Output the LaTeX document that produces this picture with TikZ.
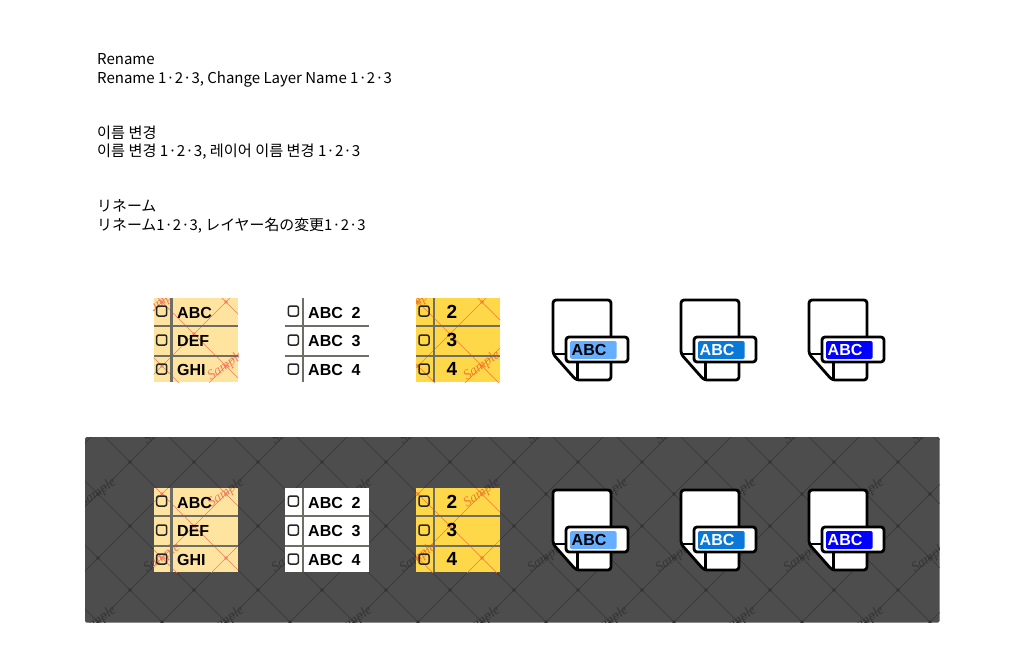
\documentclass[tikz,border=0pt]{standalone}
\usepackage{fontspec}
\setmainfont{Noto Sans CJK KR}
\newfontfamily\jpfont{Noto Sans CJK JP}
\newfontfamily\iconfont{Liberation Sans}
\newfontfamily\markfont{Liberation Serif}

% lattice with its dots, one colour per call
\newcommand{\lattice}[2]{
    \foreach \n in {-16,...,4} {
        \draw[#1, line width=0.5pt] (60, {392+64*\n}) -- (960, {1292+64*\n});
    }
    \foreach \n in {-4,...,16} {
        \draw[#1, line width=0.5pt] (60, {532+64*\n}) -- (960, {-368+64*\n});
    }
    \foreach \i in {-1,...,13} {
        \foreach \j in {-3,...,3} {
            \fill[#2] ({130+64*\i}, {462+64*\j}) circle (1.8);
            \fill[#2] ({162+64*\i}, {494+64*\j}) circle (1.8);
        }
    }
}

\tikzset{
    caption/.style={anchor=base west, inner sep=0pt, font=\fontsize{15}{15}\selectfont},
    kocaption/.style={caption, font=\fontsize{15.2}{15.2}\selectfont},
    jpcaption/.style={caption, font=\jpfont\fontsize{14.9}{14.9}\selectfont},
    rowlabel/.style={anchor=west, inner sep=0pt, font=\iconfont\bfseries\fontsize{16}{16}\selectfont},
    numlabel/.style={inner sep=0pt, font=\iconfont\bfseries\fontsize{19}{19}\selectfont},
    stamp/.style={rotate=35, inner sep=0pt, font=\markfont\itshape\fontsize{14}{14}\selectfont},
    gridline/.style={tablegray, line width=2.2pt},
    checkbox/.style={draw=black!85, line width=1.5pt, rounded corners=2pt},
    docline/.style={black, line width=2.8pt, rounded corners=3pt}
}

\begin{document}
\begin{tikzpicture}[x=1pt, y=-1pt]
    % Define colors
    \definecolor{panelcolor}{RGB}{77, 77, 77}
    \definecolor{latticecolor}{RGB}{54, 54, 54}
    \definecolor{palecolor}{RGB}{255, 228, 160}
    \definecolor{paleline}{RGB}{240, 128, 96}
    \definecolor{ambercolor}{RGB}{255, 216, 74}
    \definecolor{amberline}{RGB}{240, 128, 40}
    \definecolor{tablegray}{RGB}{110, 110, 100}
    \definecolor{lightblue}{RGB}{102, 174, 255}
    \definecolor{midblue}{RGB}{10, 120, 215}
    \definecolor{fullblue}{RGB}{0, 0, 255}

    % Page size
    \useasboundingbox (0, 0) rectangle (1024, 654);

    % Captions
    \node[caption] (enhead) at (97, 64.5) {Rename};
    \node[caption] (enline) at (97, 83.2) {Rename 1·2·3, Change Layer Name 1·2·3};
    \node[kocaption] (kohead) at (97, 138) {이름 변경};
    \node[kocaption] (koline) at (97, 156.7) {이름 변경 1·2·3, 레이어 이름 변경 1·2·3};
    \node[jpcaption] (jphead) at (97, 211) {リネーム};
    \node[jpcaption] (jpline) at (97, 230) {リネーム1·2·3, レイヤー名の変更1·2·3};

    % Dark panel
    \fill[panelcolor, rounded corners=1.5pt] (85, 437) rectangle (939.5, 622.5);
    \begin{scope}
        \clip (85, 437) rectangle (939.5, 622.5);
        \lattice{latticecolor}{black!80}
        \foreach \i in {0,...,6} {
            \node[stamp, latticecolor, name=panelup\i] at ({98+128*\i}, 493) {Sample};
            \node[stamp, latticecolor, name=paneldown\i] at ({98+128*\i}, 621) {Sample};
            \node[stamp, latticecolor, name=paneltop\i] at ({162+128*\i}, 430) {Sample};
            \node[stamp, latticecolor, name=panelmid\i] at ({162+128*\i}, 558) {Sample};
        }
    \end{scope}

    % Both rows of icons
    \foreach \dy/\ax/\ay/\bx/\by in {0/162/302/226/366, 190/226/303/162/368} {
        % Table fills
        \fill[palecolor] (153.5, 298+\dy) rectangle (238, 382+\dy);
        \fill[white] (284.5, 298+\dy) rectangle (368.5, 382+\dy);
        \fill[ambercolor] (416, 298+\dy) rectangle (500, 382+\dy);

        % Stamps that show on the fills
        \begin{scope}
            \clip (153.5, 298+\dy) rectangle (238, 382+\dy);
            \lattice{paleline}{paleline}
            \node[stamp, paleline, name=palea\dy] at (\ax, \ay+\dy) {Sample};
            \node[stamp, paleline, name=paleb\dy] at (\bx, \by+\dy) {Sample};
        \end{scope}
        \begin{scope}
            \clip (416, 298+\dy) rectangle (500, 382+\dy);
            \lattice{amberline}{amberline}
            \node[stamp, amberline, name=ambera\dy] at (\ax+256, \ay+\dy) {Sample};
            \node[stamp, amberline, name=amberb\dy] at (\bx+256, \by+\dy) {Sample};
        \end{scope}

        % Table lines and check boxes
        \foreach \ox/\vx/\cx in {153.5/171.5/161.7, 284.5/302.7/293.3, 416/434/424} {
            \draw[gridline] (\vx, 298+\dy) -- (\vx, 382+\dy);
            \draw[gridline] (\ox, 325.7+\dy) -- (\ox+84, 325.7+\dy);
            \draw[gridline] (\ox, 355.7+\dy) -- (\ox+84, 355.7+\dy);
            \foreach \ry in {311, 340, 369} {
                \draw[checkbox] (\cx-5, \ry-5+\dy) rectangle (\cx+5, \ry+5+\dy);
            }
        }

        % Table labels
        \foreach \ry/\first/\second/\third in {312.5/ABC/ABC~~2/2, 341/DEF/ABC~~3/3, 369.5/GHI/ABC~~4/4} {
            \node[rowlabel, name=first\ry] at (177, \ry+\dy) {\first};
            \node[rowlabel, name=second\ry] at (308, \ry+\dy) {\second};
            \node[numlabel, name=third\ry] at (452, \ry-1+\dy) {\third};
        }

        % Document icons
        \foreach \ox/\barcolor/\textcolor in {0/lightblue/black, 128/midblue/white, 256/fullblue/white} {
            \draw[docline, fill=white] (553+\ox, 354+\dy) -- (553+\ox, 300+\dy) -- (611+\ox, 300+\dy)
                -- (611+\ox, 380+\dy) -- (576+\ox, 380+\dy) -- cycle;
            \draw[black, line width=2.8pt] (553+\ox, 354+\dy) -- (570+\ox, 354+\dy);
            \draw[black, line width=2.8pt] (577.7+\ox, 360+\dy) -- (577.7+\ox, 380+\dy);
            \draw[docline, fill=white] (566+\ox, 337+\dy) rectangle (628+\ox, 362+\dy);
            \fill[\barcolor, rounded corners=1.5pt] (570+\ox, 341+\dy) rectangle (616.5+\ox, 359+\dy);
            \node[rowlabel, name=doc\ox, text=\textcolor] at (571.5+\ox, 350+\dy) {ABC};
        }
    }
\end{tikzpicture}
\end{document}
